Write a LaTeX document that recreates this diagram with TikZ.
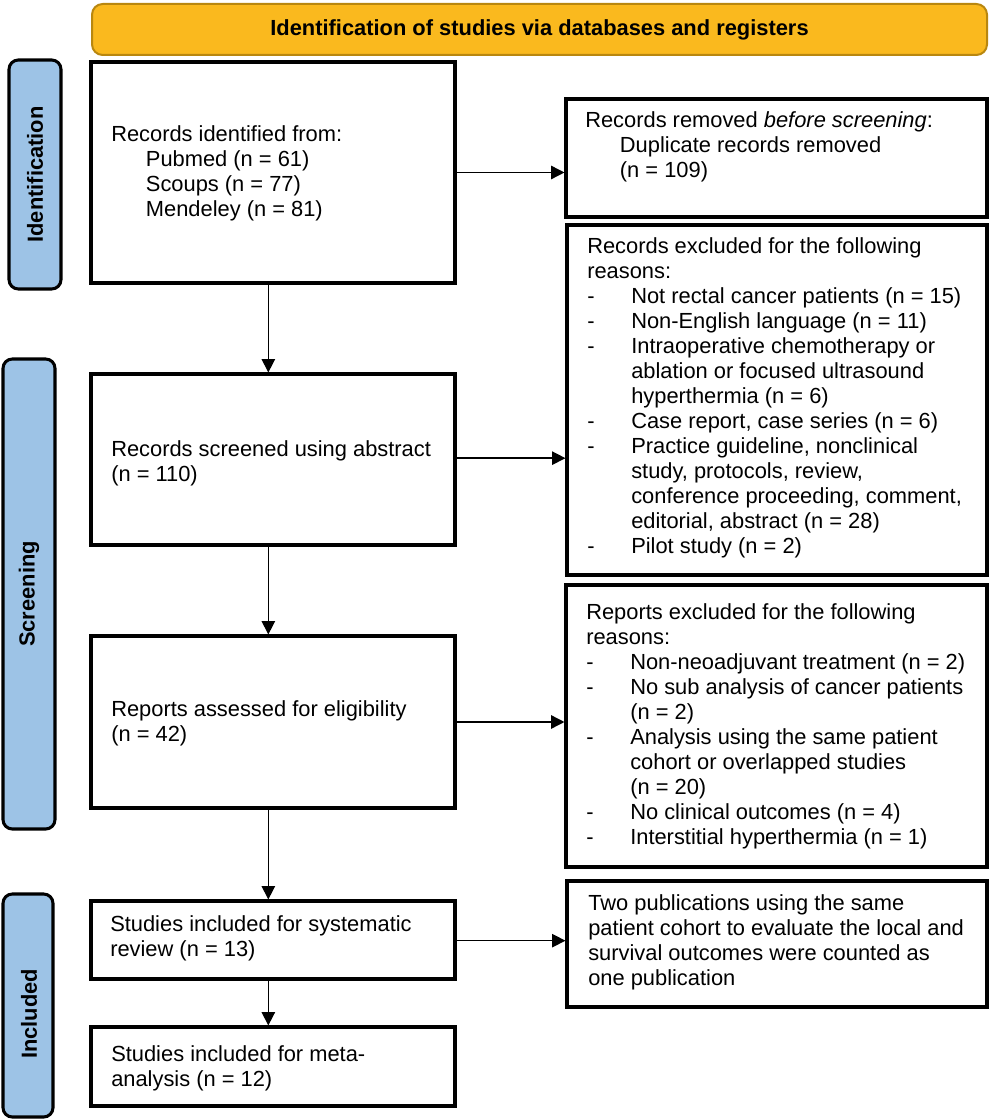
\documentclass[tikz,border=0pt]{standalone}
\usepackage{fontspec}
\setmainfont{Liberation Sans}
\usetikzlibrary{arrows.meta,fit}
\definecolor{barfill}{RGB}{250,185,30}
\definecolor{barline}{RGB}{185,135,15}
\definecolor{sidefill}{RGB}{157,195,230}
\newcommand{\dsh}{\makebox[33pt][l]{-}}
\newcommand{\ind}{\hspace*{33pt}}
\newcommand{\sub}{\hspace*{26pt}}
\begin{document}
\begin{tikzpicture}[x=0.75pt,y=-0.75pt,
  font=\fontsize{16.4pt}{18.75pt}\selectfont,
  box/.style={draw, line width=2.3pt, inner sep=0pt},
  txt/.style={anchor=west, align=left, inner sep=0pt},
  side/.style={draw, line width=2.3pt, fill=sidefill, rounded corners=7pt, inner sep=0pt},
  sidetxt/.style={rotate=90, inner sep=0pt, font=\fontsize{16.4pt}{18.75pt}\selectfont\bfseries},
  arr/.style={-{Triangle[length=10pt,width=10pt]}, line width=1.1pt}]

\useasboundingbox (0,0) rectangle (992,1119);

% header bar
\node[draw=barline, fill=barfill, line width=1.5pt, rounded corners=8pt, inner sep=0pt,
      fit={(92,4)(987,55)}] (bar) {};
\node[inner sep=0pt, font=\fontsize{16.4pt}{18.75pt}\selectfont\bfseries] (bart) at (bar.center)
  {Identification of studies via databases and registers};

% side bars
\node[side, fit={(9,60)(61,289)}] (s1) {};
\node[sidetxt] (s1t) at (s1.center) {Identification};
\node[side, fit={(3,359)(55,829)}] (s2) {};
\node[sidetxt] (s2t) at (s2.center) {Screening};
\node[side, fit={(3,894)(53,1117)}] (s3) {};
\node[sidetxt] (s3t) at (29,1014) {Included};

% left column boxes
\node[box, fit={(91,62)(455,283)}] (b1) {};
\node[txt] (b1t) at (111,173) {Records identified from:\\
  \sub Pubmed (n = 61)\\
  \sub Scoups (n = 77)\\
  \sub Mendeley (n = 81)};

\node[box, fit={(91,374)(455,545)}] (b2) {};
\node[txt] (b2t) at (111,463) {Records screened using abstract\\(n = 110)};

\node[box, fit={(91,636)(455,808)}] (b3) {};
\node[txt] (b3t) at (111,723) {Reports assessed for eligibility\\(n = 42)};

\node[box, fit={(91,901)(455,979)}] (b4) {};
\node[txt] (b4t) at (110,938) {Studies included for systematic\\review (n = 13)};

\node[box, fit={(91,1027)(455,1106)}] (b5) {};
\node[txt] (b5t) at (111,1068) {Studies included for meta-\\analysis (n = 12)};

% right column boxes
\node[box, fit={(566,99)(987,217)}] (r1) {};
\node[txt] (r1t) at (585,147) {Records removed \textit{before screening}:\\
  \sub Duplicate records removed\\
  \sub (n = 109)};

\node[box, fit={(567,225)(987,575)}] (r2) {};
\node[txt] (r2t) at (587,398) {Records excluded for the following\\
  reasons:\\
  \dsh Not rectal cancer patients (n = 15)\\
  \dsh Non-English language (n = 11)\\
  \dsh Intraoperative chemotherapy or\\
  \ind ablation or focused ultrasound\\
  \ind hyperthermia (n = 6)\\
  \dsh Case report, case series (n = 6)\\
  \dsh Practice guideline, nonclinical\\
  \ind study, protocols, review,\\
  \ind conference proceeding, comment,\\
  \ind editorial, abstract (n = 28)\\
  \dsh Pilot study (n = 2)};

\node[box, fit={(566,585)(987,867)}] (r3) {};
\node[txt] (r3t) at (586,726) {Reports excluded for the following\\
  reasons:\\
  \dsh Non-neoadjuvant treatment (n = 2)\\
  \dsh No sub analysis of cancer patients\\
  \ind (n = 2)\\
  \dsh Analysis using the same patient\\
  \ind cohort or overlapped studies\\
  \ind (n = 20)\\
  \dsh No clinical outcomes (n = 4)\\
  \dsh Interstitial hyperthermia (n = 1)};

\node[box, fit={(567,881)(987,1007)}] (r4) {};
\node[txt] (r4t) at (588,942) {Two publications using the same\\
  patient cohort to evaluate the local and\\
  survival outcomes were counted as\\
  one publication};

% connectors
\draw[arr] ([xshift=-3.5pt]b1.south) -- ([xshift=-3.5pt]b2.north);
\draw[arr] ([xshift=-3.5pt]b2.south) -- ([xshift=-3.5pt]b3.north);
\draw[arr] ([xshift=-3.5pt]b3.south) -- ([xshift=-3.5pt]b4.north);
\draw[arr] ([xshift=-3.5pt]b4.south) -- ([xshift=-3.5pt]b5.north);
\draw[arr] (b1.east) -- (b1.east -| r1.west);
\draw[arr] ([yshift=1pt]b2.east) -- ([yshift=1pt]b2.east -| r2.west);
\draw[arr] (b3.east) -- (b3.east -| r3.west);
\draw[arr] ([yshift=-0.5pt]b4.east) -- ([yshift=-0.5pt]b4.east -| r4.west);
\end{tikzpicture}
\end{document}
